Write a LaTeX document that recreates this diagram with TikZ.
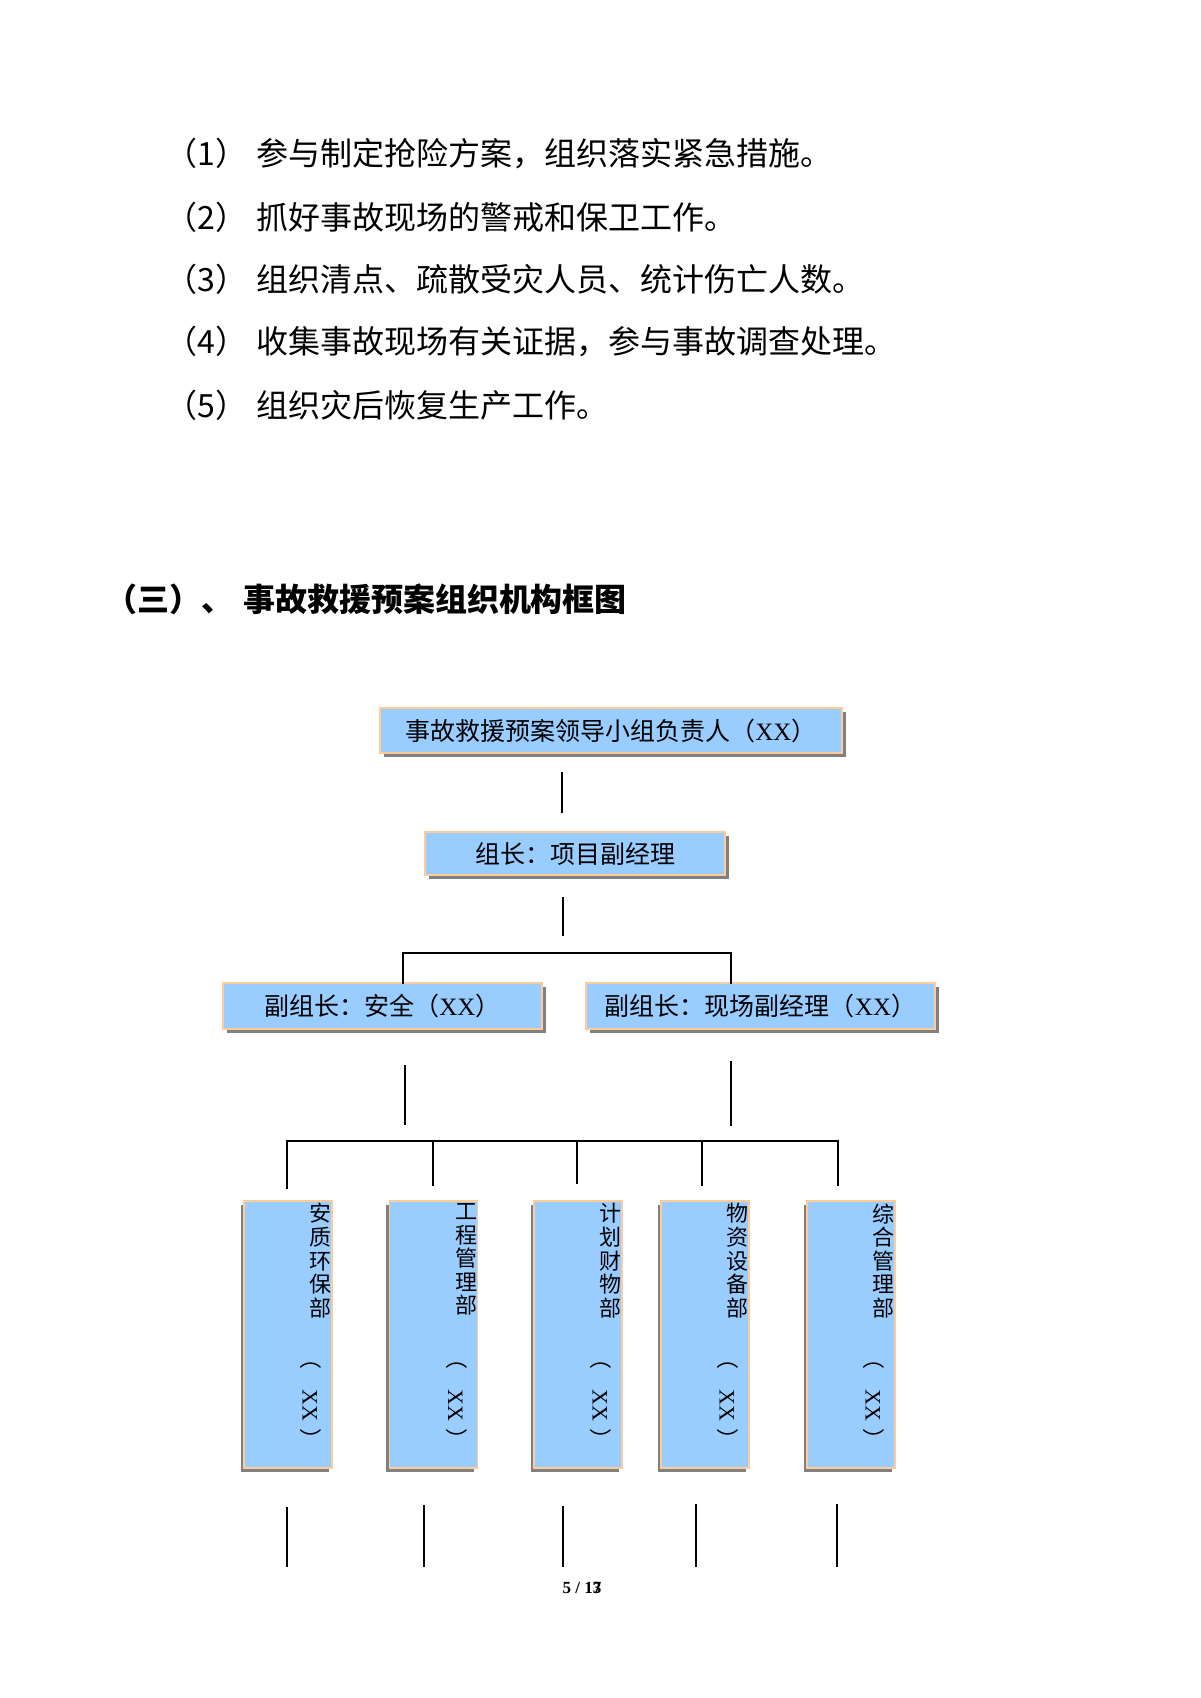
\documentclass[tikz,border=0pt]{standalone}
\usepackage{fontspec}
\setmainfont{Noto Sans CJK SC}
\newfontfamily\serifxx{Liberation Serif}
\usetikzlibrary{shadows}
\definecolor{boxblue}{RGB}{153,204,255}
\definecolor{boxedge}{RGB}{255,204,153}
\definecolor{shadowgray}{RGB}{128,128,128}
\newcommand\xx{{\serifxx XX}}
\newcommand\deptbox[3]{%
  \node[vbox] (#1) at (#2,1334.5) {};
  \node[vtext, anchor=north] (#1t) at ({#2+32.5},1203) {#3};
  \node[vxx] (#1x) at ({#2+23},1399) {（\hspace{0.9em}\xx\hspace{0.3em}）};
}
\begin{document}
\begin{tikzpicture}[x=0.5pt,y=-0.5pt,
  conn/.style={line width=1pt, draw=black},
  hbox/.style={draw=boxedge, line width=0.8pt, fill=boxblue, inner sep=0pt,
    drop shadow={shadow xshift=1.75pt, shadow yshift=-1.75pt, fill=shadowgray, opacity=1},
    font=\fontsize{12.5pt}{15pt}\selectfont},
  vbox/.style={draw=boxedge, line width=0.8pt, fill=boxblue, inner sep=0pt,
    minimum width=44pt, minimum height=133.5pt,
    drop shadow={shadow xshift=-1.75pt, shadow yshift=-1.75pt, fill=shadowgray, opacity=1}},
  vtext/.style={align=center, inner sep=0pt, font=\fontsize{11pt}{11.8pt}\selectfont},
  vxx/.style={rotate=-90, inner sep=0pt, font=\fontsize{11pt}{13pt}\selectfont},
  listtext/.style={anchor=west, inner sep=0pt, font=\fontsize{16pt}{19pt}\selectfont},
  headtext/.style={anchor=west, inner sep=0pt, font=\fontsize{16pt}{19pt}\selectfont\bfseries},
  pagetext/.style={inner sep=0pt, font=\serifxx\bfseries\fontsize{8.5pt}{10pt}\selectfont}
]
\useasboundingbox[fill=white] (0,0) rectangle (1200,1698);

% list
\node[listtext] (l1) at (165,154) {（1）\hspace{0.3em}参与制定抢险方案，组织落实紧急措施。};
\node[listtext] (l2) at (165,217) {（2）\hspace{0.3em}抓好事故现场的警戒和保卫工作。};
\node[listtext] (l3) at (165,279) {（3）\hspace{0.3em}组织清点、疏散受灾人员、统计伤亡人数。};
\node[listtext] (l4) at (165,342) {（4）\hspace{0.3em}收集事故现场有关证据，参与事故调查处理。};
\node[listtext] (l5) at (165,405) {（5）\hspace{0.3em}组织灾后恢复生产工作。};

% heading
\node[headtext] (head) at (105,599) {（三）、\hspace{0.3em}事故救援预案组织机构框图};

% top boxes
\node[hbox, minimum width=231pt, minimum height=22.5pt] (lead) at (611,730.5) {事故救援预案领导小组负责人（\xx）};
\node[hbox, minimum width=150pt, minimum height=21.5pt] (chief) at (575,853.5) {组长：项目副经理};
\node[hbox, minimum width=159.5pt, minimum height=23pt] (vice1) at (382.5,1006) {副组长：安全（\xx）};
\node[hbox, minimum width=174.5pt, minimum height=23pt] (vice2) at (760.5,1006) {副组长：现场副经理（\xx）};

% connectors between upper levels
\coordinate (a1) at (562,772);  \coordinate (a2) at (562,813);
\draw[conn] (a1) -- (a2);
\coordinate (b1) at (563,897);  \coordinate (b2) at (563,936);
\draw[conn] (b1) -- (b2);
\coordinate (s1) at (403,984);  \coordinate (s2) at (403,953);
\coordinate (s3) at (731,953);  \coordinate (s4) at (731,984);
\draw[conn] (s1) -- (s2) -- (s3) -- (s4);
\coordinate (c1) at (405,1065); \coordinate (c2) at (405,1125);
\draw[conn] (c1) -- (c2);
\coordinate (e1) at (731,1061); \coordinate (e2) at (731,1126);
\draw[conn] (e1) -- (e2);

% bus to departments
\coordinate (h1) at (287,1141); \coordinate (d1) at (287,1189);
\coordinate (h2) at (433,1141); \coordinate (d2) at (433,1186);
\coordinate (h3) at (577,1141); \coordinate (d3) at (577,1184);
\coordinate (h4) at (702,1141); \coordinate (d4) at (702,1186);
\coordinate (h5) at (838,1141); \coordinate (d5) at (838,1186);
\draw[conn] (d1) -- (h1) -- (h5) -- (d5);
\draw[conn] (h2) -- (d2);
\draw[conn] (h3) -- (d3);
\draw[conn] (h4) -- (d4);

% departments
\deptbox{dep1}{288}{安\\质\\环\\保\\部}
\deptbox{dep2}{433.5}{工\\程\\管\\理\\部}
\deptbox{dep3}{578}{计\\划\\财\\物\\部}
\deptbox{dep4}{705}{物\\资\\设\\备\\部}
\deptbox{dep5}{851}{综\\合\\管\\理\\部}

% lines below departments
\coordinate (f1) at (287,1507); \coordinate (g1) at (287,1567);
\coordinate (f2) at (424,1505); \coordinate (g2) at (424,1567);
\coordinate (f3) at (563,1506); \coordinate (g3) at (563,1567);
\coordinate (f4) at (696,1504); \coordinate (g4) at (696,1567);
\coordinate (f5) at (837,1504); \coordinate (g5) at (837,1567);
\draw[conn] (f1) -- (g1);
\draw[conn] (f2) -- (g2);
\draw[conn] (f3) -- (g3);
\draw[conn] (f4) -- (g4);
\draw[conn] (f5) -- (g5);

% page number
\node[pagetext] (page) at (582,1588) {5 / 1\rlap{3}7};
\end{tikzpicture}
\end{document}
